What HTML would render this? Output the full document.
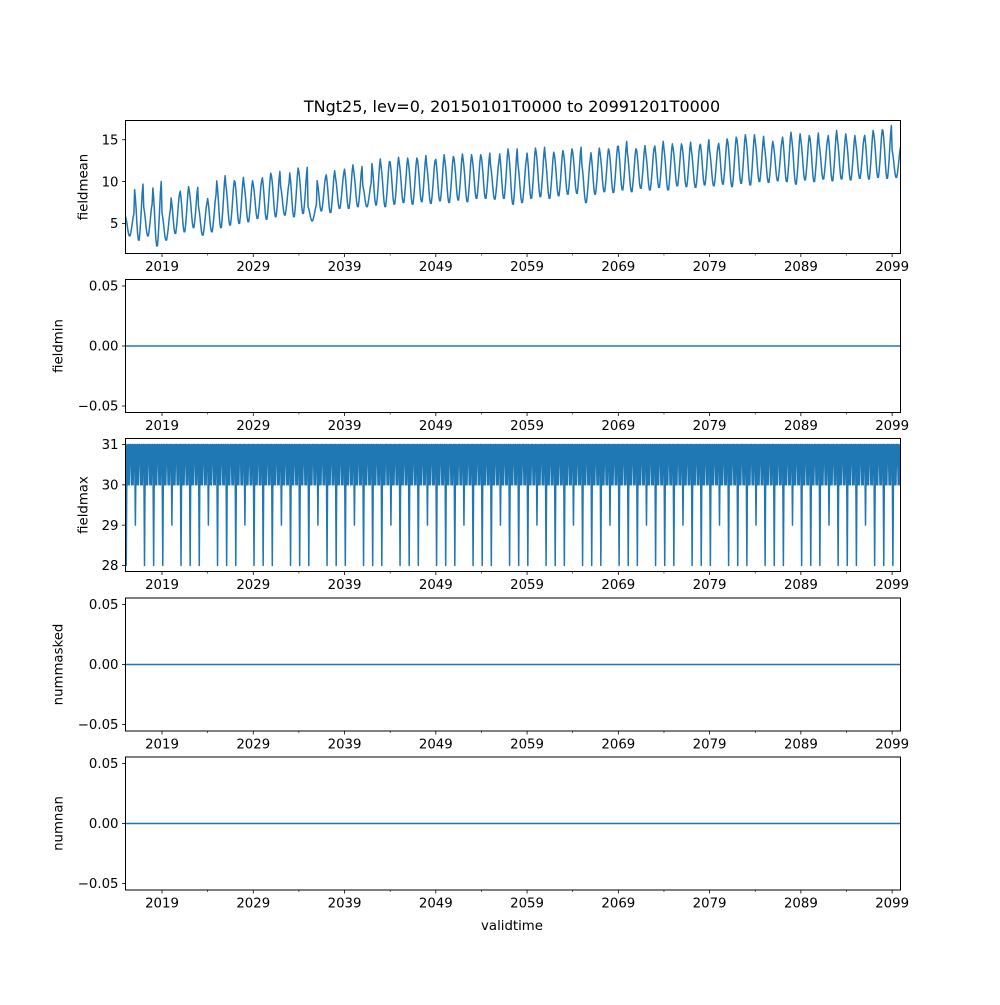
<!DOCTYPE html>
<html><head><meta charset="utf-8"><style>
body{margin:0;background:#fff}
svg text{font-family:"DejaVu Sans","Liberation Sans",sans-serif;font-size:13.3px;fill:#000}
</style></head><body>
<svg id="fig" width="1000" height="1000" xmlns="http://www.w3.org/2000/svg">
<rect width="1000" height="1000" fill="#fff"/>
<text x="512" y="112" text-anchor="middle" style="font-size:16px">TNgt25, lev=0, 20150101T0000 to 20991201T0000</text>
<text x="512" y="930" text-anchor="middle">validtime</text>
</svg>
<script>
const yearMax=[6.1,9.7,7.3,10,6.6,8.5,9.4,9.3,7.4,8.4,10.7,10.1,10.5,10.1,10.1,11,11.2,9.8,11.6,11.7,7.2,10.5,11.3,11,12,11.8,9.8,12.7,12.4,12.9,12.8,12.8,13.1,12.5,13.2,13,13.3,13.2,13.2,13.4,12.4,13.9,
13.9,12.6,14.0,14.1,13.5,13.7,13.9,14.1,12.6,14.0,13.9,14.2,14.8,13.9,14.3,14.0,14.8,14.5,14.5,14.7,14.3,15.0,14.2,15.1,15.3,15.6,15.6,15.4,14.8,14.8,15.9,15.7,15.5,15.8,15.0,16.1,15.7,15.5,15.2,16.1,16.2,16.7,14.1];
const yearMin=[3.5,3.0,3.5,2.3,3.0,3.8,4.0,4.5,3.6,4.0,4.5,4.8,5.0,5.2,5.6,5.5,5.8,6.0,5.8,6.2,5.3,6.5,6.3,6.8,6.8,7.0,7.0,7.2,7.0,7.3,7.5,7.3,7.6,7.4,7.7,7.5,7.8,7.6,8.0,8.0,7.9,8.0,7.3,7.5,8.0,8.2,8.0,8.3,8.5,8.6,7.5,8.5,8.8,8.7,9.0,8.8,9.2,9.0,9.3,9.0,9.5,9.4,9.3,9.6,9.5,9.7,9.4,9.8,9.6,10.0,9.9,10.1,10.0,9.7,10.2,10.0,10.3,10.1,10.3,10.2,10.4,10.3,10.5,10.4,10.5];
const monthShape=[0.8,0.5,0.1,-0.4,-0.8,-1,-1,-0.7,-0.3,0.2,0.7,1];
const monthDays=[31,28,31,30,31,30,31,31,30,31,30,31];
const leapYears=[2016,2020,2024,2028,2032,2036,2040,2044,2048,2052,2056,2060,2064,2068,2072,2076,2080,2084,2088,2092,2096];
const xTickYears=[2019,2029,2039,2049,2059,2069,2079,2089,2099];
const xMinorYears=[2024,2034,2044,2054,2064,2074,2084,2094];
const zeroTicks=[0.05,0,-0.05];
const zeroLabels=["0.05","0.00","\u22120.05"];

const NS="http://www.w3.org/2000/svg";
const svg=document.getElementById('fig');
const X0=125.5,X1=900.5,T0=2015,T1=2099+11/12;
function xs(t){return X0+(t-T0)/(T1-T0)*(X1-X0);}
function mk(tag,attrs,parent){const e=document.createElementNS(NS,tag);for(const k in attrs)e.setAttribute(k,attrs[k]);(parent||svg).appendChild(e);return e;}

// build series
const times=[],fmean=[],fmax=[],zeros=[];
for(let y=T0;y<=2099;y++){for(let m=0;m<12;m++){
  times.push(y+m/12);
  const i=y-T0;
  fmean.push(yearMin[i]+(yearMax[i]-yearMin[i])*(monthShape[m]+1)/2);
  fmax.push(m===1&&leapYears.includes(y)?29:monthDays[m]);
  zeros.push(0);
}}

const panels=[
 {name:'fieldmean',top:120.5,bot:253.5,lo:1.4,hi:17.3,ticks:[5,10,15],labels:['5','10','15'],vals:fmean,lx:83},
 {name:'fieldmin',top:279.5,bot:412.5,lo:-0.0554,hi:0.0554,ticks:zeroTicks,labels:zeroLabels,vals:zeros,lx:58},
 {name:'fieldmax',top:438.5,bot:571.5,lo:27.85,hi:31.15,ticks:[28,29,30,31],labels:['28','29','30','31'],vals:fmax,lx:83},
 {name:'nummasked',top:598,bot:731,lo:-0.0554,hi:0.0554,ticks:zeroTicks,labels:zeroLabels,vals:zeros,lx:58},
 {name:'numnan',top:757,bot:890,lo:-0.0554,hi:0.0554,ticks:zeroTicks,labels:zeroLabels,vals:zeros,lx:58}
];
panels.forEach(p=>{
  const g=mk('g',{});
  
  
  const ys=v=>p.bot-(v-p.lo)/(p.hi-p.lo)*(p.bot-p.top);
  const clipId='c'+p.name;
  const cp=mk('clipPath',{id:clipId},g);
  mk('rect',{x:X0,y:p.top,width:X1-X0,height:p.bot-p.top},cp);
  const pts=p.vals.map((v,i)=>xs(times[i]).toFixed(2)+','+ys(v).toFixed(2)).join(' ');
  const line=mk('polyline',{points:pts,fill:'none',stroke:'#1f77b4','stroke-width':1.5,'stroke-linejoin':'round','clip-path':'url(#'+clipId+')'},g);
  
  
  const fr=mk('rect',{x:X0,y:p.top,width:X1-X0,height:p.bot-p.top,fill:'none',stroke:'#000','stroke-width':1},g);
  
  
  p.ticks.forEach((t,i)=>{
    const y=ys(t);
    mk('line',{x1:X0-3.5,x2:X0,y1:y,y2:y,stroke:'#000','stroke-width':0.8},g);
    const tx=mk('text',{x:X0-7,y:y+4.7,'text-anchor':'end'},g);
    tx.textContent=p.labels[i];
    
    
  });
  xTickYears.forEach(yr=>{
    const x=xs(yr);
    mk('line',{x1:x,x2:x,y1:p.bot,y2:p.bot+3.5,stroke:'#000','stroke-width':0.8},g);
    const tx=mk('text',{x:x,y:p.bot+17.5,'text-anchor':'middle'},g);
    tx.textContent=String(yr);
    
    
  });
  xMinorYears.forEach(yr=>{
    const x=xs(yr);
    mk('line',{x1:x,x2:x,y1:p.bot,y2:p.bot+2,stroke:'#000','stroke-width':0.6},g);
  });
  const cy=(p.top+p.bot)/2;
  const yl=mk('text',{x:p.lx,y:cy,'text-anchor':'middle',transform:'rotate(-90 '+p.lx+' '+cy+')',dy:'0.35em'},g);
  yl.textContent=p.name;
  
  
});
</script>
</body></html>
